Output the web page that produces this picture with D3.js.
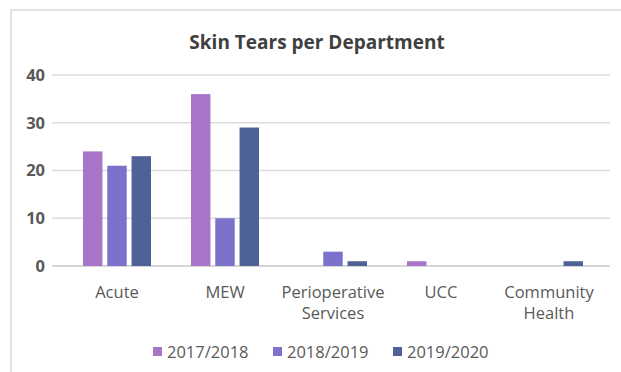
<!DOCTYPE html>
<html>
<head>
<meta charset="utf-8">
<script src="https://cdn.jsdelivr.net/npm/d3@7"></script>
<style>
  body { margin: 0; background: #fff; }
  svg { display: block; font-family: "Open Sans", "Noto Sans", sans-serif; }
</style>
</head>
<body>
<div id="chart"></div>
<script>
// Data
const categories = ["Acute", "MEW", "Perioperative Services", "UCC", "Community Health"];
const categoryLines = [["Acute"], ["MEW"], ["Perioperative", "Services"], ["UCC"], ["Community", "Health"]];
const seriesNames = ["2017/2018", "2018/2019", "2019/2020"];
const values2017 = [24, 36, 0, 1, 0];
const values2018 = [21, 10, 3, 0, 0];
const values2019 = [23, 29, 1, 0, 1];
const yTicks = [0, 10, 20, 30, 40];

const seriesValues = [values2017, values2018, values2019];
const colors = ["#a774c8", "#7b72cb", "#4e6296"];

const width = 621, height = 372;

const svg = d3.select("#chart")
  .append("svg")
  .attr("width", width)
  .attr("height", height);

// chart area border (top and left visible)
svg.append("path")
  .attr("d", `M11,${height} V10 H${width}`)
  .attr("fill", "none")
  .attr("stroke", "#d9d9d9")
  .attr("stroke-width", 1.5);

// title
svg.append("text")
  .attr("x", 317)
  .attr("y", 49)
  .attr("text-anchor", "middle")
  .attr("font-size", 19)
  .attr("font-weight", "bold")
  .attr("fill", "#404040")
  .text("Skin Tears per Department");

// scales
const xScale = d3.scaleBand()
  .domain(categories)
  .range([63, 603]);

const xInner = d3.scaleBand()
  .domain(seriesNames)
  .range([xScale.bandwidth() / 2 - 34, xScale.bandwidth() / 2 + 34])
  .paddingInner(0.2);

const yScale = d3.scaleLinear()
  .domain([0, 40])
  .range([266, 75]);

// gridlines
svg.append("g")
  .selectAll("line")
  .data(yTicks)
  .join("line")
  .attr("x1", 52)
  .attr("x2", 610)
  .attr("y1", (d) => yScale(d))
  .attr("y2", (d) => yScale(d))
  .attr("stroke", (d) => (d === 0 ? "#c8c8c8" : "#dcdcdc"))
  .attr("stroke-width", 1.3);

// y axis labels
const yAxis = svg.append("g")
  .attr("transform", "translate(45,0)")
  .call(d3.axisLeft(yScale).tickValues(yTicks).tickSize(0).tickPadding(0));
yAxis.select(".domain").remove();
yAxis.selectAll("text")
  .attr("font-size", 16.5)
  .attr("font-weight", "bold")
  .attr("fill", "#595959")
  .attr("font-family", "Open Sans, sans-serif");

// bars
const groups = svg.append("g")
  .selectAll("g")
  .data(categories)
  .join("g")
  .attr("transform", (d) => `translate(${xScale(d)},0)`);

groups.selectAll("rect")
  .data((d, i) => seriesNames.map((s, j) => ({ series: s, value: seriesValues[j][i], idx: j })))
  .join("rect")
  .attr("x", (d) => xInner(d.series))
  .attr("width", xInner.bandwidth())
  .attr("y", (d) => yScale(d.value))
  .attr("height", (d) => yScale(0) - yScale(d.value))
  .attr("fill", (d) => colors[d.idx]);

// category labels
const catLabels = svg.append("g")
  .selectAll("text")
  .data(categories)
  .join("text")
  .attr("x", (d) => xScale(d) + xScale.bandwidth() / 2)
  .attr("y", 298)
  .attr("text-anchor", "middle")
  .attr("font-size", 16.5)
  .attr("fill", "#595959");

catLabels.selectAll("tspan")
  .data((d, i) => categoryLines[i])
  .join("tspan")
  .attr("x", function () { return d3.select(this.parentNode).attr("x"); })
  .attr("dy", (d, i) => (i === 0 ? 0 : 21))
  .text((d) => d);

// legend
const legendX = [153, 273, 393];
const legend = svg.append("g")
  .selectAll("g")
  .data(seriesNames)
  .join("g")
  .attr("transform", (d, i) => `translate(${legendX[i]},352)`);

legend.append("rect")
  .attr("x", 0)
  .attr("y", -5)
  .attr("width", 9)
  .attr("height", 9)
  .attr("fill", (d, i) => colors[i]);

legend.append("text")
  .attr("x", 14)
  .attr("y", 6)
  .attr("font-size", 16.5)
  .attr("fill", "#595959")
  .text((d) => d);
</script>
</body>
</html>
